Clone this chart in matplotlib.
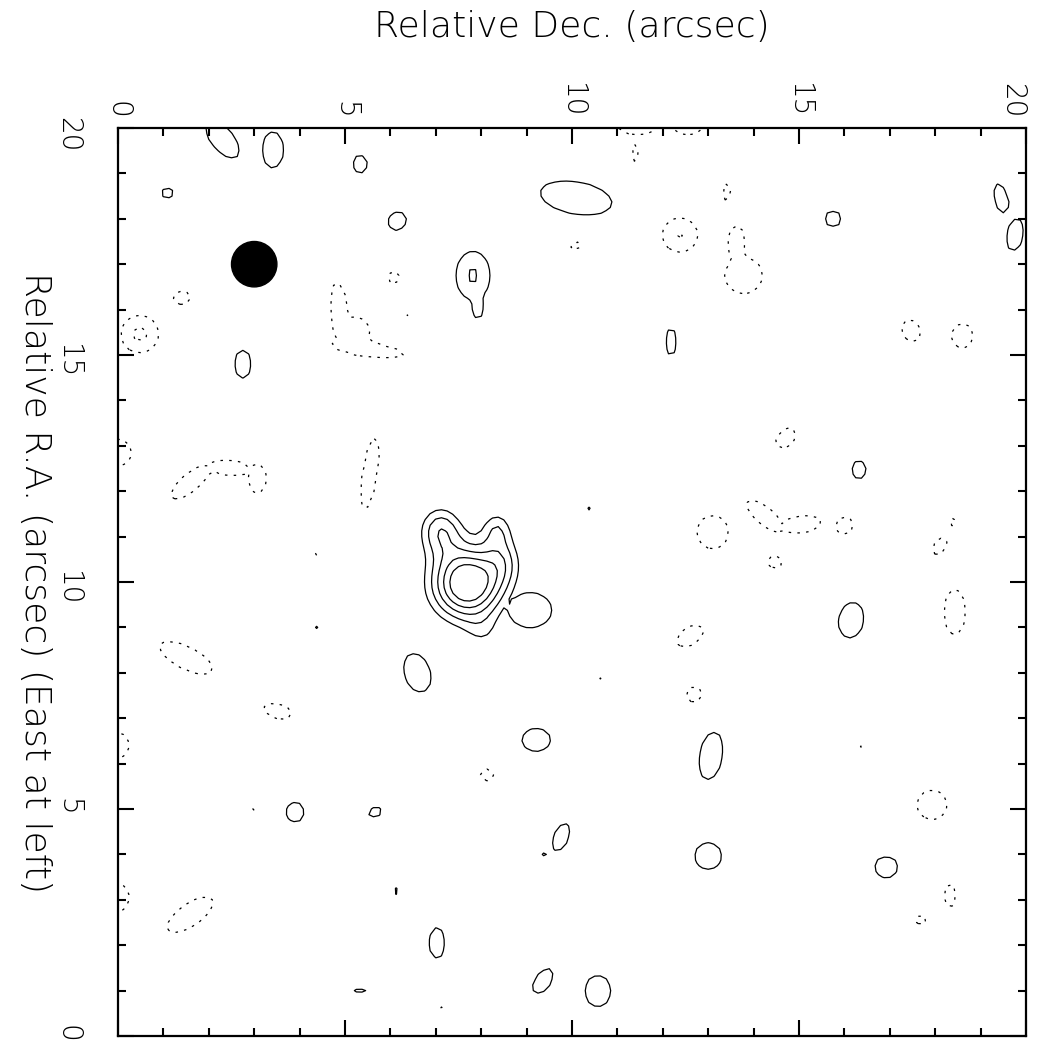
import numpy as np
import matplotlib.pyplot as plt
from matplotlib.patches import Circle
from matplotlib.ticker import MultipleLocator

# Central source: gaussian components (arcsec, peak in sigma units)
src_x = [7.70, 7.10, 8.35, 8.05, 8.50]
src_y = [9.97, 11.15, 11.20, 8.85, 10.50]
src_amp = [7.5, 3.5, 2.3, 1.2, 2.0]
src_sx = [0.58, 0.35, 0.25, 0.30, 0.30]
src_sy = [0.58, 0.40, 0.30, 0.30, 0.40]

# Noise peaks: position, peak, half sizes (arcsec), position angle (deg)
peak_x = [2.30, 3.41, 5.33, 1.10, 6.15, 2.75, 7.82, 7.92, 10.09, 12.18,
          15.75, 19.45, 19.76, 16.32, 16.15, 6.59, 9.21, 3.90, 5.66, 9.76,
          9.40, 6.14, 7.03, 5.33, 9.36, 13.06, 13.00, 16.92, 10.57, 9.08,
          10.80, 10.64, 4.40, 6.39, 13.81, 17.82, 4.60, 10.40]
peak_y = [19.75, 19.52, 19.20, 18.57, 17.95, 14.80, 16.75, 16.10, 18.46, 15.29,
          18.00, 18.45, 17.65, 12.47, 9.16, 8.00, 6.52, 4.93, 4.93, 4.38,
          4.00, 3.19, 2.05, 0.99, 1.21, 6.17, 3.96, 3.72, 0.99, 9.38,
          4.05, 7.84, 8.99, 15.84, 13.61, 7.40, 18.80, 11.60]
peak_amp = [2.6, 2.6, 2.6, 2.6, 2.6, 2.6, 3.01, 2.6, 2.6, 2.6,
            2.6, 2.6, 2.6, 2.6, 2.6, 2.6, 2.6, 2.6, 2.6, 2.6,
            2.6, 2.6, 2.6, 2.6, 2.6, 2.6, 2.6, 2.6, 2.6, 2.6,
            2.6, 2.6, 2.6, 2.6, 2.6, 2.6, 2.6, 2.6]
peak_rx = [0.50, 0.24, 0.17, 0.14, 0.22, 0.19, 0.34, 0.15, 0.80, 0.13,
           0.18, 0.16, 0.19, 0.17, 0.40, 0.44, 0.32, 0.21, 0.16, 0.33,
           0.08, 0.09, 0.18, 0.15, 0.32, 0.53, 0.30, 0.26, 0.29, 0.48,
           0.05, 0.06, 0.04, 0.04, 0.04, 0.04, 0.04, 0.04]
peak_ry = [0.25, 0.40, 0.20, 0.13, 0.20, 0.31, 0.48, 0.30, 0.36, 0.30,
           0.18, 0.33, 0.36, 0.21, 0.28, 0.29, 0.26, 0.22, 0.12, 0.17,
           0.06, 0.07, 0.34, 0.07, 0.18, 0.26, 0.30, 0.24, 0.35, 0.39,
           0.05, 0.04, 0.04, 0.04, 0.04, 0.04, 0.04, 0.08]
peak_pa = [-50, 0, 0, 0, 30, 0, 0, 0, -10, 0,
           0, 15, -10, 0, 80, -72, 0, 0, 30, 65,
           0, 0, 0, 0, 55, 80, 0, 0, 0, 0,
           0, 0, 0, 0, 0, 0, 0, 0]

# Negative noise dips
dip_x = [0.48, 1.41, 6.08, 4.88, 5.50, 5.20, 0.00, 1.60, 2.45, 3.07,
         5.55, 1.50, 3.52, -0.05, -0.10, 1.59, 8.13, 14.71, 13.10, 14.25,
         15.05, 16.00, 14.47, 18.40, 18.10, 18.43, 12.60, 12.69, 17.93, 18.33,
         17.69, 11.40, 11.45, 12.55, 13.41, 12.38, 13.62, 13.78, 17.47, 18.60,
         10.09, 15.20, 16.39, 4.40, 4.19, 3.00, 7.16]
dip_y = [15.46, 16.26, 16.72, 15.90, 15.12, 15.50, 12.85, 12.20, 12.52, 12.28,
         12.40, 8.33, 7.16, 6.40, 3.05, 2.67, 5.75, 13.17, 11.10, 11.45,
         11.27, 11.24, 10.44, 11.33, 10.79, 9.34, 8.81, 7.53, 5.09, 3.10,
         2.55, 19.45, 20.05, 20.05, 18.59, 17.64, 17.45, 16.75, 15.53, 15.42,
         17.42, 7.58, 6.41, 10.60, 6.45, 5.00, 0.64]
dip_amp = [-3.03, -2.6, -2.6, -2.6, -2.6, -2.6, -2.6, -2.6, -2.6, -2.6,
           -2.6, -2.6, -2.6, -2.6, -2.6, -2.6, -2.6, -2.6, -2.6, -2.6,
           -2.6, -2.6, -2.6, -2.6, -2.6, -2.6, -2.6, -2.6, -2.6, -2.6,
           -2.6, -2.6, -2.6, -2.6, -2.6, -3.005, -2.6, -2.6, -2.6, -2.6,
           -2.6, -2.6, -2.6, -2.6, -2.6, -2.6, -2.6]
dip_rx = [0.37, 0.20, 0.14, 0.20, 0.80, 0.35, 0.30, 0.55, 0.45, 0.20,
          0.80, 0.65, 0.32, 0.30, 0.35, 0.60, 0.15, 0.26, 0.35, 0.50,
          0.45, 0.20, 0.16, 0.08, 0.21, 0.24, 0.33, 0.18, 0.33, 0.14,
          0.14, 0.09, 0.45, 0.35, 0.09, 0.35, 0.20, 0.42, 0.20, 0.24,
          0.15, 0.05, 0.05, 0.04, 0.04, 0.04, 0.04]
dip_ry = [0.37, 0.15, 0.14, 0.70, 0.17, 0.35, 0.30, 0.20, 0.18, 0.33,
          0.17, 0.25, 0.17, 0.30, 0.35, 0.25, 0.13, 0.18, 0.37, 0.20,
          0.20, 0.20, 0.16, 0.10, 0.14, 0.50, 0.20, 0.18, 0.33, 0.26,
          0.10, 0.20, 0.20, 0.20, 0.21, 0.34, 0.40, 0.40, 0.26, 0.28,
          0.08, 0.05, 0.05, 0.08, 0.08, 0.04, 0.08]
dip_pa = [0, 0, 0, 5, -8, 0, 0, 40, -5, 0,
          82, -27, -15, 0, 0, 35, 0, 45, 0, -40,
          8, 0, 0, 0, 60, 0, 35, 0, 0, 0,
          0, 0, 0, 0, 0, 0, 0, 0, 30, 0,
          0, 0, 0, 0, 0, 0, 0]

pos_levels = [2, 3, 4, 5, 6]
neg_levels = [-3, -2]

beam_x, beam_y, beam_radius = 3.0, 17.0, 0.5


def rotated_q(xx, yy, x0, y0, rx, ry, pa):
    t = np.deg2rad(pa)
    dx, dy = xx - x0, yy - y0
    u = dx * np.cos(t) + dy * np.sin(t)
    v = -dx * np.sin(t) + dy * np.cos(t)
    return (u / rx)**2 + (v / ry)**2


def make_map():
    grid = np.arange(-1.0, 21.01, 0.125)
    xx, yy = np.meshgrid(grid, grid)

    # central source, summed gaussians
    src = np.zeros_like(xx)
    for x0, y0, a, sx, sy in zip(src_x, src_y, src_amp, src_sx, src_sy):
        src += a * np.exp(-0.5 * rotated_q(xx, yy, x0, y0, sx, sy, 0))

    # compact noise features (flat-topped, steep edges)
    # contour radius at level 2 ~ half size for peak 2.6
    def blob(x0, y0, a, rx, ry, pa):
        s = 1.0 / (np.sqrt(2) * np.log(2.6 / 2) ** 0.25)
        q = rotated_q(xx, yy, x0, y0, rx * s, ry * s, pa)
        return abs(a) * np.exp(-(q / 2)**2)

    pos = np.zeros_like(xx)
    for p in zip(peak_x, peak_y, peak_amp, peak_rx, peak_ry, peak_pa):
        pos = np.maximum(pos, blob(*p))
    neg = np.zeros_like(xx)
    for p in zip(dip_x, dip_y, dip_amp, dip_rx, dip_ry, dip_pa):
        neg = np.maximum(neg, blob(*p))

    return xx, yy, np.maximum(src, pos) - neg


def plot_map():
    plt.rcParams['font.family'] = ['DejaVu Sans']
    plt.rcParams['font.weight'] = 'light'
    fig = plt.figure(figsize=(10.37, 10.44), dpi=100)
    ax = fig.add_axes([118 / 1037, 8 / 1044, 908 / 1037, 908 / 1044])

    xx, yy, zz = make_map()
    ax.contour(xx, yy, zz, levels=pos_levels, colors='black',
               linewidths=0.9, linestyles='solid')
    ax.contour(xx, yy, zz, levels=neg_levels, colors='black',
               linewidths=0.9, linestyles=[(0, (2, 5))])
    ax.add_patch(Circle((beam_x, beam_y), beam_radius, color='black'))

    ax.set_xlim(0, 20)
    ax.set_ylim(0, 20)
    ax.set_xticks([0, 5, 10, 15, 20])
    ax.set_yticks([0, 5, 10, 15, 20])
    ax.xaxis.set_minor_locator(MultipleLocator(1))
    ax.yaxis.set_minor_locator(MultipleLocator(1))
    ax.tick_params(which='both', direction='in', top=True, right=True,
                   bottom=True, left=True, labeltop=True, labelbottom=False,
                   labelleft=True, labelright=False, width=1.5,
                   labelsize=20)
    ax.tick_params(which='major', length=11.5)
    ax.tick_params(which='minor', length=6)
    ax.tick_params(axis='x', labelrotation=-90, pad=7)
    ax.tick_params(axis='y', labelrotation=-90, pad=26)
    for s in ax.spines.values():
        s.set_linewidth(1.6)

    # keep the last top label inside the figure
    ax.xaxis.get_major_ticks()[-1].label2.set_horizontalalignment('right')

    fig.text(572 / 1037, 1 - 27 / 1044, 'Relative Dec. (arcsec)',
             ha='center', va='center', fontsize=26)
    fig.text(35 / 1037, 1 - 583 / 1044,
             'Relative R.A. (arcsec) (East at left)',
             ha='center', va='center', rotation=-90, fontsize=26)

    fig.savefig('out.png', dpi=100)


if __name__ == '__main__':
    plot_map()
